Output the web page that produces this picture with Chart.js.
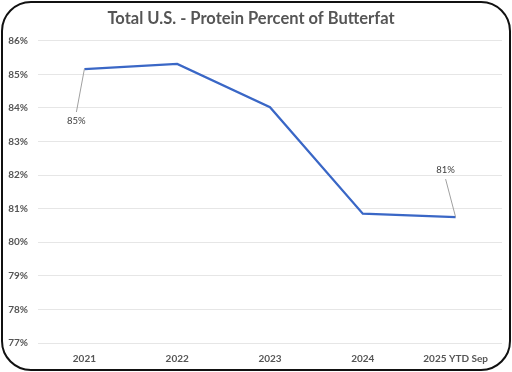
<!DOCTYPE html>
<html>
<head>
<meta charset="utf-8">
<script src="https://cdn.jsdelivr.net/npm/chart.js@4"></script>
<style>
  html, body { margin: 0; padding: 0; background: #fff; }
  .wrap { position: relative; width: 512px; height: 372px; }
  .frame { position: absolute; left: 1px; top: 1px; width: 506px; height: 366px;
           border: 2px solid #111; border-radius: 30px; pointer-events: none; }
  canvas { position: absolute; left: 0; top: 0; }
</style>
</head>
<body>
<div class="wrap">
  <canvas id="c" width="512" height="372"></canvas>
  <div class="frame"></div>
</div>
<script>
const years = ['2021', '2022', '2023', '2024', '2025 YTD Sep'];
const proteinPct = [85.16, 85.31, 84.02, 80.85, 80.75];
const labelled = [0, 4];
const yMin = 77, yMax = 86;

// leader-line labels, offsets relative to the point
const labelOffsets = { 0: [-8, 52], 4: [-10, -47] };

const leaderLabels = {
  id: 'leaderLabels',
  afterDatasetsDraw(chart) {
    const ctx = chart.ctx;
    const meta = chart.getDatasetMeta(0);
    ctx.save();
    ctx.font = '9.5px Lato, "Liberation Sans", sans-serif';
    ctx.fillStyle = '#404040';
    ctx.strokeStyle = '#a0a0a0';
    ctx.lineWidth = 1;
    ctx.textAlign = 'center';
    ctx.textBaseline = 'middle';
    labelled.forEach(i => {
      const p = meta.data[i];
      const [dx, dy] = labelOffsets[i];
      const tx = p.x + dx, ty = p.y + dy;
      ctx.beginPath();
      ctx.moveTo(p.x, p.y);
      ctx.lineTo(tx, ty + (dy > 0 ? -9 : 9));
      ctx.stroke();
      ctx.fillText(Math.round(proteinPct[i]) + '%', tx, ty);
    });
    ctx.restore();
  }
};

new Chart(document.getElementById('c').getContext('2d'), {
  type: 'line',
  data: {
    labels: years,
    datasets: [{
      data: proteinPct,
      borderColor: '#3a67c6',
      borderWidth: 2.25,
      pointRadius: 0,
      tension: 0,
      fill: false
    }]
  },
  options: {
    responsive: false,
    animation: false,
    layout: { padding: { left: 0, right: 10, top: 0, bottom: 0 } },
    plugins: {
      legend: { display: false },
      tooltip: { enabled: false },
      title: {
        display: true,
        text: 'Total U.S. - Protein Percent of Butterfat',
        color: '#555555',
        font: { family: 'Lato, "Liberation Sans", sans-serif', size: 16.5, weight: 'bold' },
        padding: { top: 9, bottom: 12 }
      }
    },
    scales: {
      x: {
        offset: true,
        grid: { display: false, drawTicks: false },
        border: { display: false },
        ticks: {
          color: '#555555', padding: 10,
          font: { family: 'Lato, "Liberation Sans", sans-serif', size: 10, weight: 'bold' },
          maxRotation: 0
        },
        afterFit(s) { s.height = 29; }
      },
      y: {
        min: yMin, max: yMax,
        grid: { color: '#e6e6e6', drawTicks: false },
        border: { display: false },
        ticks: {
          stepSize: 1, color: '#555555', padding: 10,
          font: { family: 'Lato, "Liberation Sans", sans-serif', size: 10, weight: 'bold' },
          callback: v => v + '%'
        },
        afterFit(s) { s.width = 38; }
      }
    }
  },
  plugins: [leaderLabels]
});
</script>
</body>
</html>
